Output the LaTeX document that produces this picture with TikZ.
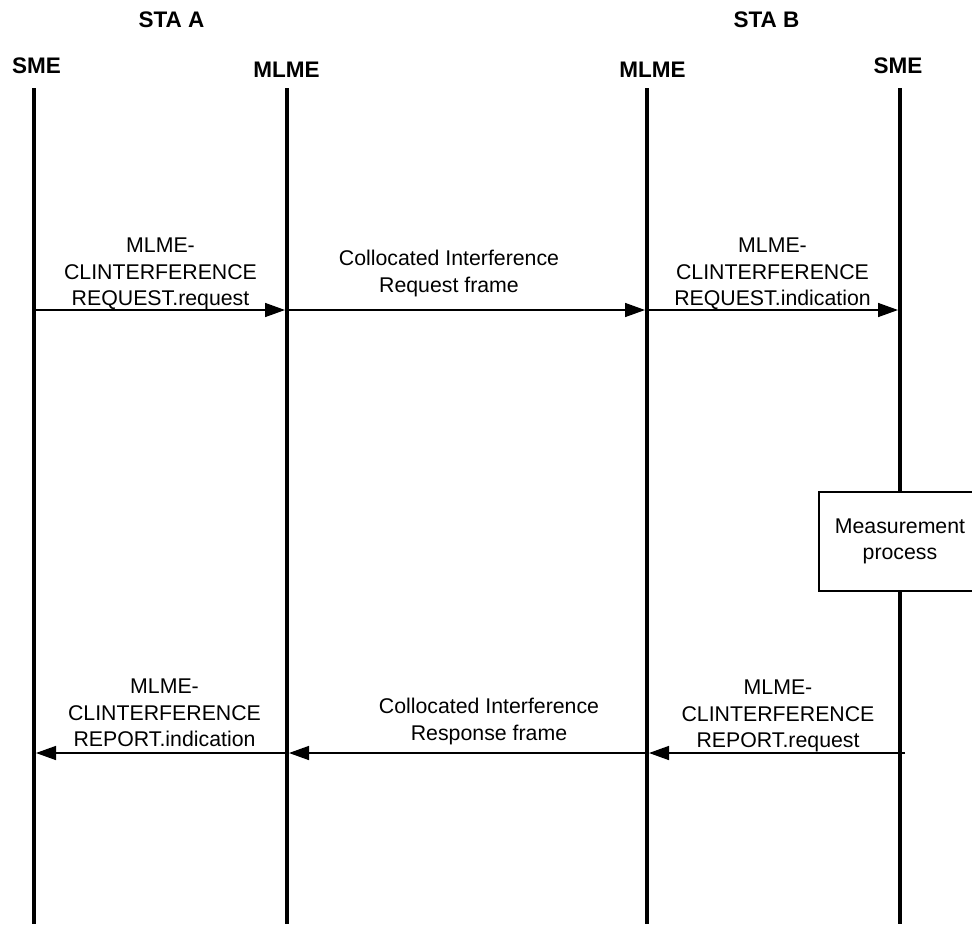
\documentclass[tikz,border=0pt]{standalone}
\usepackage{fontspec}
\setmainfont{Liberation Sans}
\usetikzlibrary{arrows.meta}
\begin{document}
\begin{tikzpicture}[x=1pt,y=-1pt,
  life/.style={line width=4pt},
  msg/.style={line width=1.5pt,-{Triangle[length=20pt,width=14pt]}},
  head/.style={font=\fontsize{22.5}{26}\selectfont\bfseries, inner sep=0pt, anchor=north},
  lbl/.style={font=\fontsize{21.3}{26.5}\selectfont, align=center, inner sep=0pt, anchor=north},
  procbox/.style={draw, line width=1.5pt, fill=white, minimum width=162pt, minimum height=99pt,
    inner sep=0pt, align=center, font=\fontsize{21.3}{26.5}\selectfont}]
\useasboundingbox (0,0) rectangle (972,924);
% headers
\node[head] (staA) at (171.5,12) {STA A};
\node[head] (staB) at (766.5,12) {STA B};
\node[head] (smeAh) at (36.5,58) {SME};
\node[head] (mlmeAh) at (286.5,62) {MLME};
\node[head] (mlmeBh) at (652.5,62) {MLME};
\node[head] (smeBh) at (898,58) {SME};
% lifelines
\coordinate (smeAt) at (34,88);  \coordinate (smeAb) at (34,924);
\coordinate (mlmeAt) at (287,88); \coordinate (mlmeAb) at (287,924);
\coordinate (mlmeBt) at (647,88); \coordinate (mlmeBb) at (647,924);
\coordinate (smeBt) at (900,88); \coordinate (smeBb) at (900,924);
\draw[life] (smeAt) -- (smeAb);
\draw[life] (mlmeAt) -- (mlmeAb);
\draw[life] (mlmeBt) -- (mlmeBb);
\draw[life] (smeBt) -- (smeBb);
% measurement box
\node[procbox] (meas) at (900,541.5) {Measurement\\process};
% message points
\coordinate (p1a) at (34,310); \coordinate (p1b) at (287,310);
\coordinate (p1c) at (647,310); \coordinate (p1d) at (900,310);
\coordinate (p2a) at (34,753); \coordinate (p2b) at (287,753);
\coordinate (p2c) at (647,753); \coordinate (p2d) at (905,753);
% messages
\draw[msg, shorten >=2pt] (p1a) -- (p1b);
\draw[msg, shorten >=2pt] (p1b) -- (p1c);
\draw[msg, shorten >=2pt] (p1c) -- (p1d);
\draw[msg, shorten >=2pt] (p2d) -- (p2c);
\draw[msg, shorten >=2pt] (p2c) -- (p2b);
\draw[msg, shorten >=2pt] (p2b) -- (p2a);
% labels
\node[lbl] (l1) at (160.5,238) {MLME-\\CLINTERFERENCE\\REQUEST.request};
\node[lbl] (l2) at (449,250) {Collocated Interference\\Request frame};
\node[lbl] (l3) at (772.5,238) {MLME-\\CLINTERFERENCE\\REQUEST.indication};
\node[lbl] (l4) at (164.5,679) {MLME-\\CLINTERFERENCE\\REPORT.indication};
\node[lbl] (l5) at (489,698) {Collocated Interference\\Response frame};
\node[lbl] (l6) at (778,680) {MLME-\\CLINTERFERENCE\\REPORT.request};
\end{tikzpicture}
\end{document}
